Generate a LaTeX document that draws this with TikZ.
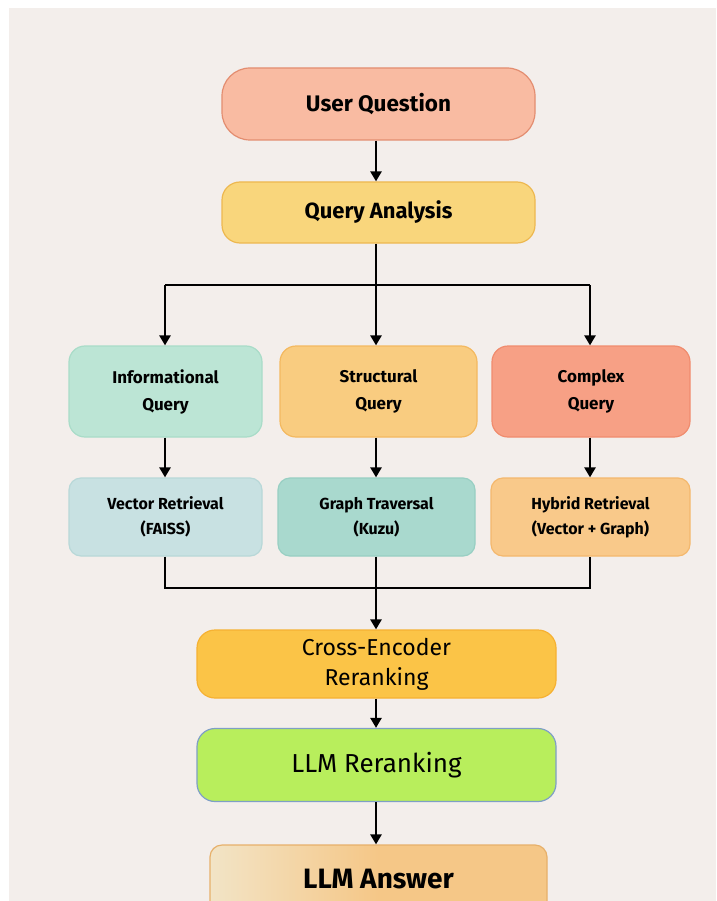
\documentclass[tikz,border=0pt]{standalone}
\usepackage{fontspec}
\setmainfont{Fira Sans}
\usetikzlibrary{arrows.meta}
\definecolor{bgc}{HTML}{F3EEEB}
\definecolor{uqf}{HTML}{F9BBA2}\definecolor{uqd}{HTML}{E38D70}
\definecolor{qaf}{HTML}{F9D67C}\definecolor{qad}{HTML}{EDB850}
\definecolor{inf}{HTML}{BCE5D5}\definecolor{ind}{HTML}{A9DCC8}
\definecolor{stf}{HTML}{F9CC80}\definecolor{std}{HTML}{F3B960}
\definecolor{cof}{HTML}{F7A085}\definecolor{cod}{HTML}{F08C6E}
\definecolor{vef}{HTML}{C8E1E2}\definecolor{ved}{HTML}{B8D8D8}
\definecolor{grf}{HTML}{A9D9CE}\definecolor{grd}{HTML}{98CFC3}
\definecolor{hyf}{HTML}{F9C98A}\definecolor{hyd}{HTML}{F4B86D}
\definecolor{crf}{HTML}{FBC447}\definecolor{crd}{HTML}{F6B132}
\definecolor{llf}{HTML}{B8EE5C}\definecolor{lld}{HTML}{7F9FC6}
\definecolor{anf}{HTML}{F5C787}\definecolor{anl}{HTML}{F2E4C6}\definecolor{and}{HTML}{E7B06A}
\tikzset{
  box/.style={draw, line width=1.2pt, align=center, inner sep=2pt, text=black},
  conn/.style={line width=2.4pt, black},
  arr/.style={conn, -{Triangle[width=11pt,length=10pt]}},
  bigtxt/.style={font=\bfseries\fontsize{22.5}{26}\selectfont},
  midtxt/.style={font=\bfseries\fontsize{17}{27}\selectfont},
  smltxt/.style={font=\bfseries\fontsize{16}{25}\selectfont},
  regtxt/.style={font=\fontsize{23}{30}\selectfont},
}
\begin{document}
\begin{tikzpicture}[x=1pt,y=-1pt]
\useasboundingbox (0,0) rectangle (716,901);
\clip (0,0) rectangle (716,901);
\fill[white] (0,0) rectangle (716,901);
\fill[bgc] (9,8) rectangle (716,901);

\node[box, bigtxt, fill=uqf, draw=uqd, minimum width=313pt, minimum height=72pt, rounded corners=28pt] (uq) at (378.5,104) {User Question};
\node[box, font=\bfseries\fontsize{22}{26}\selectfont, fill=qaf, draw=qad, minimum width=313pt, minimum height=61pt, rounded corners=18pt] (qa) at (378.5,212.5) {Query Analysis};

\node[box, midtxt, fill=inf, draw=ind, minimum width=193pt, minimum height=91pt, rounded corners=16pt] (iq) at (165.5,391.5) {Informational\\Query};
\node[box, midtxt, fill=stf, draw=std, minimum width=197pt, minimum height=91pt, rounded corners=16pt] (sq) at (378.5,391.5) {Structural\\Query};
\node[box, midtxt, fill=cof, draw=cod, minimum width=198pt, minimum height=91pt, rounded corners=16pt] (cq) at (591,391.5) {Complex\\Query};

\node[box, smltxt, fill=vef, draw=ved, minimum width=193pt, minimum height=78pt, rounded corners=12pt] (vr) at (165.5,517) {Vector Retrieval\\(FAISS)};
\node[box, smltxt, fill=grf, draw=grd, minimum width=197pt, minimum height=78pt, rounded corners=12pt] (gt) at (376.5,517) {Graph Traversal\\(Kuzu)};
\node[box, smltxt, fill=hyf, draw=hyd, minimum width=199pt, minimum height=78pt, rounded corners=12pt] (hr) at (590.5,517) {Hybrid Retrieval\\(Vector + Graph)};

\node[box, regtxt, fill=crf, draw=crd, minimum width=359pt, minimum height=68pt, rounded corners=18pt] (ce) at (376.5,664) {Cross-Encoder\\Reranking};
\node[box, font=\fontsize{26}{30}\selectfont, fill=llf, draw=lld, minimum width=359pt, minimum height=73pt, rounded corners=18pt] (lr) at (376.5,765) {LLM Reranking};
\node[box, shading angle=60, left color=anl, right color=anf, middle color=anf, draw=and, minimum width=337pt, minimum height=76pt, rounded corners=12pt] (la) at (378.5,883) {};
\node[font=\bfseries\fontsize{28}{30}\selectfont] (lat) at (378.5,879) {LLM Answer};

\coordinate (s1) at (165,285);
\coordinate (s3) at (590,285);
\coordinate (m1) at (165,588);
\coordinate (m3) at (590,588);

\draw[arr] (uq.south -| 376,0) -- (qa.north -| 376,0);
\draw[arr] (qa.south -| 376,0) -- (sq.north -| 376,0);
\draw[conn] (s1) -- (s3);
\draw[arr] (s1) -- (iq.north -| s1);
\draw[arr] (s3) -- (cq.north -| s3);
\draw[arr] (iq.south -| s1) -- (vr.north -| s1);
\draw[arr] (sq.south -| 376,0) -- (gt.north -| 376,0);
\draw[arr] (cq.south -| s3) -- (hr.north -| s3);
\draw[conn] (vr.south -| m1) -- (m1) -- (m3) -- (hr.south -| m3);
\draw[arr] (gt.south -| 376,0) -- (ce.north -| 376,0);
\draw[arr] (ce.south -| 376,0) -- (lr.north -| 376,0);
\draw[arr] (lr.south -| 376,0) -- (la.north -| 376,0);
\end{tikzpicture}
\end{document}
